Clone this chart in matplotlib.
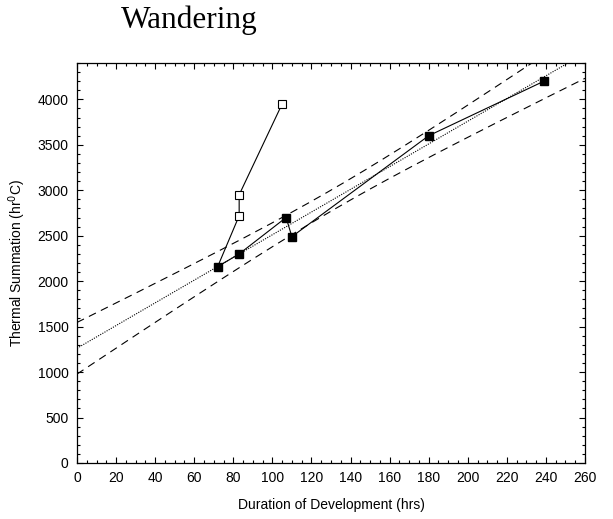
import numpy as np
import matplotlib
matplotlib.use("Agg")
import matplotlib.pyplot as plt
from matplotlib.ticker import MultipleLocator

# Development duration (hrs) vs thermal summation (hr 0C)
dur_filled = [72, 83, 107, 110, 180, 239]
ts_filled = [2160, 2300, 2700, 2490, 3600, 4200]

# Open-square series starts from the first filled point
dur_open = [72, 83, 83, 105]
ts_open = [2160, 2720, 2950, 3950]

# Student t for 95% two-sided, n-2 = 4 d.f.
t_crit = 2.776

plt.rcParams['font.family'] = ['Liberation Sans', 'DejaVu Sans']

fig = plt.figure(figsize=(6.13, 5.19), dpi=100)
ax = fig.add_axes([0.1256, 0.1079, 0.8287, 0.7707])

# least-squares fit on filled points with confidence band for the mean
x = np.array(dur_filled, dtype=float)
y = np.array(ts_filled, dtype=float)
slope, icpt = np.polyfit(x, y, 1)
resid = y - (icpt + slope * x)
n = len(x)
s = np.sqrt(np.sum(resid ** 2) / (n - 2))
sxx = np.sum((x - x.mean()) ** 2)
xx = np.linspace(0, 260, 300)
fit = icpt + slope * xx
half = t_crit * s * np.sqrt(1.0 / n + (xx - x.mean()) ** 2 / sxx)

ax.plot(xx, fit, color='black', lw=0.8, linestyle=(0, (1, 1.2)))
ax.plot(xx, fit + half, color='black', lw=0.8, linestyle=(0, (7, 5)))
ax.plot(xx, fit - half, color='black', lw=0.8, linestyle=(0, (7, 5)))

ax.plot(dur_open, ts_open, color='black', lw=0.8, marker='s', ms=5.5,
        mfc='white', mec='black', mew=0.8, markevery=slice(1, None))
ax.plot(dur_filled, ts_filled, color='black', lw=0.8, marker='s', ms=5.5,
        mfc='black', mec='black')

ax.set_xlim(0, 260)
ax.set_ylim(0, 4400)
ax.set_xticks(np.arange(0, 261, 20))
ax.set_yticks(np.arange(0, 4001, 500))
ax.xaxis.set_minor_locator(MultipleLocator(5))
ax.yaxis.set_minor_locator(MultipleLocator(100))
ax.tick_params(which='both', direction='in', top=True, right=True,
               labelsize=10, width=0.8)
ax.tick_params(which='major', length=4, pad=6)
ax.tick_params(which='minor', length=2)
for sp in ax.spines.values():
    sp.set_linewidth(0.9)

ax.set_xlabel('Duration of Development (hrs)', fontsize=10, labelpad=9)
ax.set_ylabel('Thermal Summation (hr$^{0}$C)', fontsize=10, labelpad=7)

fig.text(0.198, 0.946, 'Wandering', family='Liberation Serif', fontsize=22.5,
         va='baseline', ha='left')

fig.savefig('out.png', dpi=100)
